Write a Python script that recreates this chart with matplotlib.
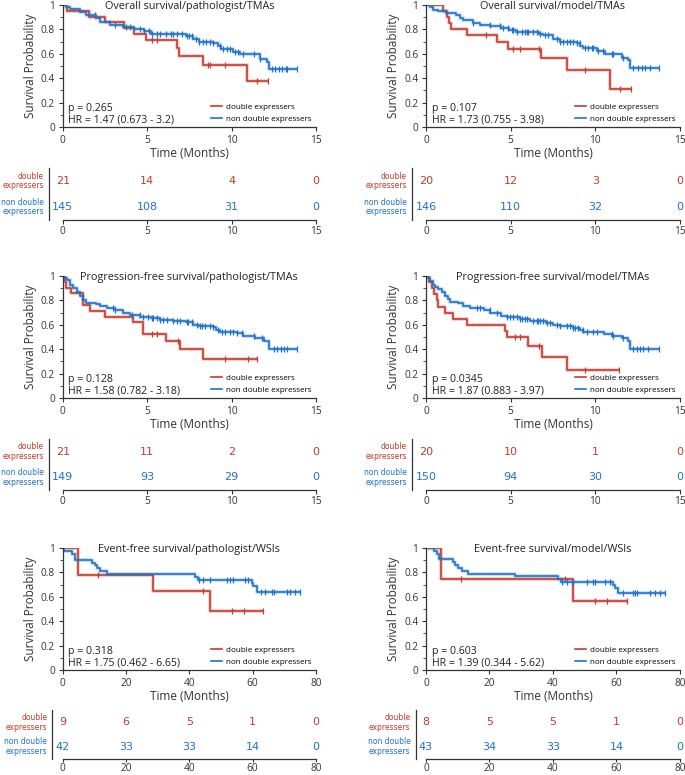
import numpy as np
import matplotlib
matplotlib.use("Agg")
import matplotlib.pyplot as plt
import matplotlib.transforms as mtransforms

RED = "#c23b2e"
BLUE = "#1f72c8"
GREY = "#333333"

titles = ["Overall survival/pathologist/TMAs", "Overall survival/model/TMAs",
          "Progression-free survival/pathologist/TMAs", "Progression-free survival/model/TMAs",
          "Event-free survival/pathologist/WSIs", "Event-free survival/model/WSIs"]
p_texts = ["p = 0.265", "p = 0.107", "p = 0.128", "p = 0.0345", "p = 0.318", "p = 0.603"]
hr_texts = ["HR = 1.47 (0.673 - 3.2)", "HR = 1.73 (0.755 - 3.98)", "HR = 1.58 (0.782 - 3.18)",
            "HR = 1.87 (0.883 - 3.97)", "HR = 1.75 (0.462 - 6.65)", "HR = 1.39 (0.344 - 5.62)"]

# ---- KM curves (event times / survival after the event / censor times) ----
# A: overall survival, pathologist, TMAs
a_red_t = [0, 0.24, 1.58, 2.49, 3.63, 4.22, 4.91, 6.75, 6.89, 8.33, 10.9]
a_red_s = [1, 0.952, 0.905, 0.857, 0.810, 0.762, 0.714, 0.645, 0.580, 0.505, 0.380]
a_red_c = [5.27, 5.57, 8.62, 8.72, 9.61, 11.49, 12.18]
a_blue_t = [0, 0.2, 0.45, 1.0, 1.4, 2.0, 2.2, 2.8, 3.6, 4.2, 4.8, 5.2, 7.3, 7.7, 8.1, 8.9, 9.2, 9.4,
            10.1, 10.5, 11.7, 12.1, 12.2]
a_blue_s = [1, 0.985, 0.965, 0.945, 0.92, 0.89, 0.86, 0.836, 0.817, 0.80, 0.787, 0.765, 0.749, 0.72,
            0.70, 0.686, 0.66, 0.64, 0.617, 0.596, 0.557, 0.535, 0.473]
a_blue_c = [1.9, 3.1, 3.75, 4.0, 4.6, 4.8, 5.1, 5.3, 5.6, 5.76, 6.1, 6.4, 6.55, 6.75, 7.05, 7.35, 7.5,
            7.64, 7.9, 8.1, 8.3, 8.5, 8.7, 8.9, 9.3, 9.5, 9.7, 9.9, 10.2, 10.4, 10.7, 11.3, 11.7, 12.4,
            12.6, 12.8, 13.0, 13.2, 13.3, 13.9]

# B: overall survival, model, TMAs
b_red_t = [0, 0.98, 1.25, 1.38, 1.5, 2.42, 4.17, 4.86, 6.8, 8.3, 10.87]
b_red_s = [1, 0.95, 0.90, 0.85, 0.80, 0.75, 0.70, 0.643, 0.563, 0.469, 0.313]
b_red_c = [3.54, 5.16, 5.55, 6.7, 9.4, 11.45, 12.1]
b_blue_t = [0, 0.24, 0.43, 0.73, 1.18, 1.8, 2.0, 2.2, 2.8, 3.2, 3.8, 4.4, 4.9, 5.3, 6.7, 6.9, 7.5, 7.9,
            8.9, 9.1, 9.3, 10.1, 10.6, 11.55, 11.95, 12.05]
b_blue_s = [1, 0.98, 0.96, 0.947, 0.935, 0.915, 0.89, 0.875, 0.855, 0.84, 0.825, 0.81, 0.795, 0.777,
            0.765, 0.75, 0.72, 0.70, 0.69, 0.66, 0.645, 0.627, 0.595, 0.567, 0.55, 0.48]
b_blue_c = [2.8, 3.78, 4.37, 4.57, 4.86, 5.06, 5.16, 5.35, 5.65, 5.85, 5.94, 6.04, 6.34, 6.54, 6.73,
            7.03, 7.22, 7.72, 7.91, 8.11, 8.31, 8.5, 8.7, 8.9, 9.09, 9.39, 9.59, 9.78, 9.88, 10.18,
            10.47, 10.96, 11.06, 11.65, 12.24, 12.5, 12.74, 12.93, 13.23, 13.78]

# C: progression-free survival, pathologist, TMAs
c_red_t = [0, 0.15, 0.22, 0.47, 1.18, 1.22, 1.62, 2.5, 4.18, 4.78, 6.1, 6.95, 8.33]
c_red_s = [1, 0.952, 0.905, 0.857, 0.81, 0.762, 0.714, 0.667, 0.619, 0.524, 0.466, 0.40, 0.32]
c_red_c = [5.27, 5.57, 6.85, 9.6, 11.0, 11.5]
c_blue_t = [0, 0.1, 0.24, 0.43, 0.63, 0.83, 1.03, 1.22, 1.38, 2.0, 2.2, 2.6, 3.1, 3.6, 4.0, 4.6, 5.2,
            5.76, 6.55, 7.3, 7.7, 8.1, 8.9, 9.1, 9.3, 10.3, 10.7, 11.4, 11.9, 12.2]
c_blue_s = [1, 0.987, 0.967, 0.93, 0.90, 0.87, 0.84, 0.80, 0.775, 0.77, 0.755, 0.735, 0.72, 0.70, 0.68,
            0.665, 0.655, 0.64, 0.635, 0.62, 0.60, 0.59, 0.58, 0.56, 0.545, 0.53, 0.51, 0.49, 0.47, 0.40]
c_blue_c = [3.0, 3.1, 4.09, 4.58, 4.78, 5.07, 5.27, 5.37, 5.57, 5.76, 5.96, 6.16, 6.55, 6.75, 6.95,
            7.34, 7.44, 7.64, 7.93, 8.13, 8.23, 8.43, 8.72, 8.92, 9.22, 9.41, 9.61, 9.91, 10.1, 10.3,
            10.6, 11.3, 11.8, 12.5, 12.7, 12.9, 13.1, 13.3, 13.9]

# D: progression-free survival, model, TMAs
d_red_t = [0, 0.2, 0.33, 0.49, 0.63, 0.69, 1.12, 1.57, 2.4, 4.67, 4.76, 6.04, 6.83, 8.3]
d_red_s = [1, 0.95, 0.90, 0.85, 0.80, 0.75, 0.70, 0.65, 0.60, 0.55, 0.50, 0.43, 0.34, 0.23]
d_red_c = [5.26, 5.55, 6.7, 9.4, 11.4]
d_blue_t = [0, 0.14, 0.24, 0.4, 0.53, 0.73, 0.93, 1.12, 1.32, 1.42, 1.9, 2.2, 2.6, 3.4, 3.8, 4.4, 4.76,
            5.55, 6.14, 7.1, 7.5, 7.9, 8.7, 9.1, 9.3, 10.5, 11.0, 11.55, 11.95, 12.05]
d_blue_s = [1, 0.98, 0.955, 0.93, 0.91, 0.89, 0.87, 0.84, 0.81, 0.785, 0.775, 0.755, 0.735, 0.72, 0.70,
            0.675, 0.66, 0.645, 0.635, 0.615, 0.60, 0.59, 0.575, 0.56, 0.545, 0.525, 0.51, 0.49, 0.47,
            0.40]
d_blue_c = [2.99, 3.19, 3.78, 4.17, 4.76, 4.96, 5.16, 5.35, 5.55, 5.65, 5.85, 5.94, 6.34, 6.54, 6.63,
            6.73, 6.93, 7.13, 7.32, 7.72, 7.91, 8.31, 8.5, 8.7, 8.8, 9.0, 9.29, 9.49, 9.88, 10.08,
            10.96, 11.06, 11.65, 12.24, 12.44, 12.64, 12.83, 13.13, 13.78]

# E: event-free survival, pathologist, WSIs
e_red_t = [0, 4.9, 28.4, 46.5]
e_red_s = [1, 0.778, 0.648, 0.486]
e_red_c = [11.1, 44.2, 53.6, 57.3, 63.4]
e_blue_t = [0, 0.5, 2.8, 3.9, 9.2, 10.2, 10.7, 11.8, 13.9, 41.8, 42.8, 59.7, 60.2, 61.5]
e_blue_s = [1, 0.976, 0.952, 0.905, 0.881, 0.857, 0.833, 0.81, 0.786, 0.762, 0.74, 0.715, 0.69, 0.64]
e_blue_c = [43.2, 44.4, 46.5, 51.8, 52.8, 53.9, 57.6, 58.6, 62.5, 63.9, 66.0, 66.7, 70.7, 71.8, 73.4,
            74.9]

# F: event-free survival, model, WSIs
f_red_t = [0, 4.6, 46.4]
f_red_s = [1, 0.75, 0.5625]
f_red_c = [10.9, 43.9, 53.2, 56.9, 63.2]
f_blue_t = [0, 2.6, 3.4, 4.2, 8.6, 9.1, 10.2, 11.2, 13.3, 28.0, 41.7, 42.4, 58.8, 59.6, 60.6]
f_blue_s = [1, 0.977, 0.953, 0.907, 0.884, 0.86, 0.837, 0.814, 0.79, 0.767, 0.744, 0.72, 0.696, 0.67,
            0.63]
f_blue_c = [42.7, 44.3, 46.4, 50.6, 52.7, 53.2, 56.4, 58.0, 61.9, 65.3, 65.8, 66.4, 70.6, 72.1, 73.7,
            75.3]

# ---- numbers at risk ----
risk_ticks_tma = [0, 5, 10, 15]
risk_ticks_wsi = [0, 20, 40, 60, 80]
a_risk_red, a_risk_blue = [21, 14, 4, 0], [145, 108, 31, 0]
b_risk_red, b_risk_blue = [20, 12, 3, 0], [146, 110, 32, 0]
c_risk_red, c_risk_blue = [21, 11, 2, 0], [149, 93, 29, 0]
d_risk_red, d_risk_blue = [20, 10, 1, 0], [150, 94, 30, 0]
e_risk_red, e_risk_blue = [9, 6, 5, 1, 0], [42, 33, 33, 14, 0]
f_risk_red, f_risk_blue = [8, 5, 5, 1, 0], [43, 34, 33, 14, 0]

panels = [
    (a_red_t, a_red_s, a_red_c, a_blue_t, a_blue_s, a_blue_c, a_risk_red, a_risk_blue, risk_ticks_tma),
    (b_red_t, b_red_s, b_red_c, b_blue_t, b_blue_s, b_blue_c, b_risk_red, b_risk_blue, risk_ticks_tma),
    (c_red_t, c_red_s, c_red_c, c_blue_t, c_blue_s, c_blue_c, c_risk_red, c_risk_blue, risk_ticks_tma),
    (d_red_t, d_red_s, d_red_c, d_blue_t, d_blue_s, d_blue_c, d_risk_red, d_risk_blue, risk_ticks_tma),
    (e_red_t, e_red_s, e_red_c, e_blue_t, e_blue_s, e_blue_c, e_risk_red, e_risk_blue, risk_ticks_wsi),
    (f_red_t, f_red_s, f_red_c, f_blue_t, f_blue_s, f_blue_c, f_risk_red, f_risk_blue, risk_ticks_wsi),
]

W, H = 685, 775
fig = plt.figure(figsize=(W / 100, H / 100), dpi=100)

KM_FONT = "Open Sans"
RISK_FONT = "DejaVu Sans"


def px_axes(left, top, right, bottom):
    return fig.add_axes([left / W, 1 - bottom / H, (right - left) / W, (bottom - top) / H])


def km_line(ax, t, s, c, color, label):
    t = np.asarray(t, float)
    s = np.asarray(s, float)
    end = max(max(c), t[-1])
    ts = np.r_[t, end]
    ss = np.r_[s, s[-1]]
    ax.step(ts, ss, where="post", color=color, lw=3.0, alpha=0.22, solid_capstyle="butt")
    ax.step(ts, ss, where="post", color=color, lw=1.2, label=label)
    idx = np.searchsorted(t, c, side="right") - 1
    ax.plot(c, s[idx], ls="none", marker="|", ms=4.5, mew=0.9, color=color)


def style_spines(ax):
    for side in ["top", "right"]:
        ax.spines[side].set_visible(False)
    for side in ["left", "bottom"]:
        ax.spines[side].set_color(GREY)
        ax.spines[side].set_linewidth(0.9)
    ax.tick_params(colors=GREY, labelcolor=GREY, width=0.8, length=3, labelsize=7.3, pad=2.5)


col_x = [(62.7, 316), (426, 680)]
km_rows = [(5, 127), (276, 398), (548, 670)]
risk_rows = [(168, 220), (439, 490), (710, 759)]

for i, (rt, rs, rc, bt, bs, bc, rr, rb, ticks) in enumerate(panels):
    row, col = divmod(i, 2)
    x0, x1 = col_x[col]
    top, bot = km_rows[row]
    ax = px_axes(x0, top, x1, bot)
    km_line(ax, rt, rs, rc, RED, "double expressers")
    km_line(ax, bt, bs, bc, BLUE, "non double expressers")
    ax.set_xlim(ticks[0], ticks[-1])
    ax.set_ylim(0, 1)
    ax.set_xticks(ticks)
    ax.set_yticks([0, 0.2, 0.4, 0.6, 0.8, 1])
    ax.set_yticklabels(["0", "0.2", "0.4", "0.6", "0.8", "1"])
    ax.set_yticks(np.arange(0.1, 1.0, 0.2), minor=True)
    style_spines(ax)
    ax.tick_params(axis="y", which="minor", length=2, color=GREY)
    for lab in ax.get_xticklabels() + ax.get_yticklabels():
        lab.set_fontfamily(KM_FONT)
    ax.set_xlabel("Time (Months)", fontsize=8.5, family=KM_FONT, color=GREY, labelpad=1)
    ax.set_ylabel("Survival Probability", fontsize=8.5, family=KM_FONT, color=GREY, labelpad=3)
    # title baseline sits ~4 px under the top of the axes
    ttrans = ax.transAxes + mtransforms.ScaledTranslation(0, -4 / 100, fig.dpi_scale_trans)
    ax.text(0.5, 1.0, titles[i], transform=ttrans, ha="center", va="baseline",
            fontsize=7.8, family=KM_FONT, color="#222222")
    ax.text(0.022, 0.148, p_texts[i], transform=ax.transAxes, ha="left", va="center",
            fontsize=7.6, family=KM_FONT, color="#222222")
    ax.text(0.022, 0.057, hr_texts[i], transform=ax.transAxes, ha="left", va="center",
            fontsize=7.6, family=KM_FONT, color="#222222")
    ax.legend(loc="lower right", frameon=False, handlelength=1.4, handletextpad=0.5,
              labelspacing=0.55, borderaxespad=0.1, bbox_to_anchor=(1.0, 0.0),
              prop={"family": KM_FONT, "size": 5.8})

    # risk table
    rtop, rbot = risk_rows[row]
    rax = px_axes(x0, rtop, x1, rbot)
    rax.set_xlim(ticks[0], ticks[-1])
    rax.set_ylim(0, 1)
    rax.set_xticks(ticks)
    rax.set_yticks([])
    style_spines(rax)
    if row < 2:
        rax.tick_params(pad=1.5)
    else:
        rax.tick_params(pad=0.5, length=2.5)
    offset = 10 if row < 2 else 7.5
    rax.spines["left"].set_position(("outward", offset))
    for lab in rax.get_xticklabels():
        lab.set_fontfamily(KM_FONT)
    for tx, n in zip(ticks, rr):
        rax.text(tx, 0.75, str(n), ha="center", va="center", fontsize=8, family=RISK_FONT,
                 color=RED, clip_on=False)
    for tx, n in zip(ticks, rb):
        rax.text(tx, 0.25, str(n), ha="center", va="center", fontsize=8, family=RISK_FONT,
                 color=BLUE, clip_on=False)
    lab_x = -(offset / 72 * 100 + 5) / (x1 - x0)
    rax.text(lab_x, 0.75, "double\nexpressers", transform=rax.transAxes, ha="right", va="center",
             fontsize=5.5, family=RISK_FONT, color=RED, linespacing=1.1)
    rax.text(lab_x, 0.25, "non double\nexpressers", transform=rax.transAxes, ha="right",
             va="center", fontsize=5.5, family=RISK_FONT, color=BLUE, linespacing=1.1)

fig.savefig("out.png", dpi=100)
